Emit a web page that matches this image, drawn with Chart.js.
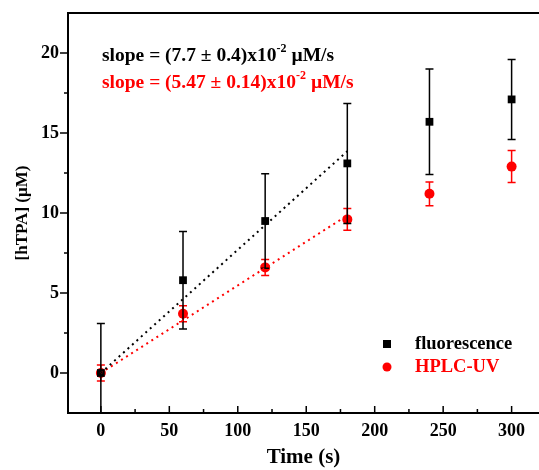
<!DOCTYPE html>
<html>
<head>
<meta charset="utf-8">
<script src="https://cdn.jsdelivr.net/npm/chart.js@4.4.0/dist/chart.umd.min.js"></script>
<style>
  html, body { margin: 0; padding: 0; background: #fff; overflow: hidden; }
</style>
</head>
<body>
<canvas id="tpaChart" width="539" height="470"></canvas>
<script>
// time points (s)
const times = [0, 60, 120, 180, 240, 300];
// fluorescence measurement and its error
const fluoValues = [0, 5.8, 9.5, 13.1, 15.7, 17.1];
const fluoErrors = [3.1, 3.05, 2.95, 3.75, 3.3, 2.5];
// HPLC-UV measurement and its error
const hplcValues = [0, 3.7, 6.6, 9.6, 11.2, 12.9];
const hplcErrors = [0.5, 0.5, 0.5, 0.68, 0.74, 1.0];
// linear fit end points
const fitTimes = [0, 180];
const fluoFit = [0, 13.86];
const hplcFit = [0, 9.85];

const xTicks = [0, 50, 100, 150, 200, 250, 300];
const xMinor = [25, 75, 125, 175, 225, 275];
const yTicks = [0, 5, 10, 15, 20];
const yMinor = [2.5, 7.5, 12.5, 17.5];

const RED = '#ff0000';
const FONT = "'Liberation Serif', 'Times New Roman', serif";

Chart.defaults.font.family = FONT;
Chart.defaults.font.weight = 'bold';
Chart.defaults.color = '#000';

const pts = (xs, ys) => xs.map((x, i) => ({ x: x, y: ys[i] }));

// error bars, drawn just before each point set
const errorBars = {
  id: 'errorBars',
  beforeDatasetDraw(chart, args) {
    const ds = chart.data.datasets[args.index];
    if (!ds.errors) return;
    const { ctx, chartArea, scales: { x, y } } = chart;
    ctx.save();
    ctx.beginPath();
    ctx.rect(chartArea.left, chartArea.top, chartArea.right - chartArea.left, chartArea.bottom - chartArea.top);
    ctx.clip();
    ctx.strokeStyle = ds.backgroundColor;
    ctx.lineWidth = 1.5;
    ds.data.forEach((p, i) => {
      const px = x.getPixelForValue(p.x);
      const top = y.getPixelForValue(p.y + ds.errors[i]);
      const bot = y.getPixelForValue(p.y - ds.errors[i]);
      ctx.beginPath();
      ctx.moveTo(px, top); ctx.lineTo(px, bot);
      ctx.moveTo(px - 4, top); ctx.lineTo(px + 4, top);
      ctx.moveTo(px - 4, bot); ctx.lineTo(px + 4, bot);
      ctx.stroke();
    });
    ctx.restore();
  }
};

// frame, tick marks, slope notes and legend
const decorations = {
  id: 'decorations',
  afterDraw(chart) {
    const { ctx, chartArea: a, scales: { x, y } } = chart;
    ctx.save();
    ctx.strokeStyle = '#000';
    ctx.lineWidth = 2;
    ctx.beginPath();
    ctx.moveTo(a.right + 2, a.top); ctx.lineTo(a.left, a.top);
    ctx.lineTo(a.left, a.bottom); ctx.lineTo(a.right + 2, a.bottom);
    ctx.stroke();

    ctx.lineWidth = 1.5;
    ctx.beginPath();
    yTicks.forEach(v => { const py = y.getPixelForValue(v); ctx.moveTo(a.left - 8, py); ctx.lineTo(a.left, py); });
    yMinor.forEach(v => { const py = y.getPixelForValue(v); ctx.moveTo(a.left - 4, py); ctx.lineTo(a.left, py); });
    xTicks.forEach(v => { const px = x.getPixelForValue(v); ctx.moveTo(px, a.bottom); ctx.lineTo(px, a.bottom - 7); });
    xMinor.forEach(v => { const px = x.getPixelForValue(v); ctx.moveTo(px, a.bottom); ctx.lineTo(px, a.bottom - 4); });
    ctx.stroke();

    const note = (x0, y0, main, color) => {
      ctx.fillStyle = color;
      ctx.textBaseline = 'alphabetic';
      ctx.textAlign = 'left';
      ctx.font = 'bold 19.5px ' + FONT;
      ctx.fillText(main, x0, y0);
      let w = ctx.measureText(main).width;
      ctx.font = 'bold 12px ' + FONT;
      ctx.fillText('-2', x0 + w, y0 - 9);
      w += ctx.measureText('-2').width;
      ctx.font = 'bold 19.5px ' + FONT;
      ctx.fillText(' \u00b5M/s', x0 + w, y0);
    };
    note(102, 61, 'slope = (7.7 \u00b1 0.4)x10', '#000');
    note(102, 88, 'slope = (5.47 \u00b1 0.14)x10', RED);

    ctx.font = 'bold 18.5px ' + FONT;
    ctx.textBaseline = 'middle';
    ctx.fillStyle = '#000';
    ctx.fillRect(383, 340, 8, 8);
    ctx.fillText('fluorescence', 415, 344);
    ctx.fillStyle = RED;
    ctx.beginPath();
    ctx.arc(387, 367, 4.5, 0, Math.PI * 2);
    ctx.fill();
    ctx.fillText('HPLC-UV', 415, 367);
    ctx.restore();
  }
};

new Chart(document.getElementById('tpaChart'), {
  type: 'scatter',
  data: {
    datasets: [
      {
        label: 'fluorescence fit',
        type: 'line',
        data: pts(fitTimes, fluoFit),
        borderColor: '#000',
        borderWidth: 2,
        borderDash: [2, 4],
        pointRadius: 0,
        fill: false
      },
      {
        label: 'HPLC-UV fit',
        type: 'line',
        data: pts(fitTimes, hplcFit),
        borderColor: RED,
        borderWidth: 2,
        borderDash: [2, 4],
        pointRadius: 0,
        fill: false
      },
      {
        label: 'fluorescence',
        data: pts(times, fluoValues),
        errors: fluoErrors,
        pointStyle: 'rect',
        pointRadius: 5.5,
        backgroundColor: '#000',
        borderColor: '#000',
        borderWidth: 0
      },
      {
        label: 'HPLC-UV',
        data: pts(times, hplcValues),
        errors: hplcErrors,
        pointStyle: 'circle',
        pointRadius: 5,
        backgroundColor: RED,
        borderColor: RED,
        borderWidth: 0
      }
    ]
  },
  options: {
    responsive: false,
    animation: false,
    devicePixelRatio: 1,
    layout: { autoPadding: false, padding: { top: 13, right: 0, left: 0, bottom: 0 } },
    scales: {
      x: {
        type: 'linear',
        min: -24,
        max: 320,
        afterBuildTicks: s => { s.ticks = xTicks.map(v => ({ value: v })); },
        afterFit: s => { s.height = 57; s.paddingLeft = 0; s.paddingRight = 0; },
        grid: { display: false, drawTicks: false },
        border: { display: false },
        ticks: { padding: 8, font: { size: 18 } },
        title: {
          display: true,
          text: 'Time (s)',
          font: { size: 21 },
          padding: { top: 0, bottom: 0 }
        }
      },
      y: {
        min: -2.5,
        max: 22.5,
        afterBuildTicks: s => { s.ticks = yTicks.map(v => ({ value: v })); },
        afterFit: s => { s.width = 68; s.paddingTop = 0; s.paddingBottom = 0; },
        grid: { display: false, drawTicks: false },
        border: { display: false },
        ticks: { padding: 9, font: { size: 18 } },
        title: {
          display: true,
          text: '[hTPA] (\u00b5M)',
          font: { size: 17 },
          padding: { top: 12, bottom: 0 }
        }
      }
    },
    plugins: {
      legend: { display: false },
      tooltip: { enabled: false }
    }
  },
  plugins: [errorBars, decorations]
});
</script>
</body>
</html>
